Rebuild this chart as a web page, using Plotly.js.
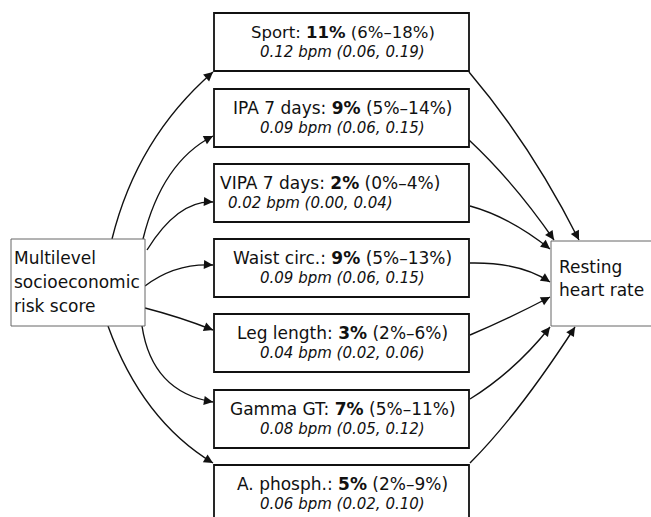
<!DOCTYPE html>
<html>
<head>
<meta charset="utf-8">
<script src="https://cdn.plot.ly/plotly-3.0.1.min.js"></script>
<style>html,body{margin:0;padding:0;background:#fff;}#chart{width:651px;height:517px;}</style>
</head>
<body>
<div id="chart"></div>
<script>
// ---- data ----
const mediators = ['Sport', 'IPA 7 days', 'VIPA 7 days', 'Waist circ.', 'Leg length', 'Gamma GT', 'A. phosph.'];
const pctMediated = [11, 9, 2, 9, 3, 7, 5];
const pctLow = [6, 5, 0, 5, 2, 5, 2];
const pctHigh = [18, 14, 4, 13, 6, 11, 9];
const bpmEffect = ['0.12', '0.09', '0.02', '0.09', '0.04', '0.08', '0.06'];
const bpmLow = ['0.06', '0.06', '0.00', '0.06', '0.02', '0.05', '0.02'];
const bpmHigh = ['0.19', '0.15', '0.04', '0.15', '0.06', '0.12', '0.10'];
const exposureLines = ['Multilevel', 'socioeconomic', 'risk score'];
const outcomeLines = ['Resting', 'heart rate'];

// ---- layout geometry (pixel space) ----
const W = 651, H = 517;
const boxX0 = 214, boxX1 = 469, boxH = 58;
const boxTops = [13, 89, 164, 239, 314, 390, 465];
const line1Size = [16.5, 17, 17, 17, 17, 17, 17];
const line1LeftX = [null, null, 218, null, null, null, null];
const line2LeftX = [null, null, 226, null, null, null, null];
const leftBox = {x0: 11, x1: 145, y0: 239, y1: 326};
const rightBox = {x0: 551, x1: 660, y0: 241, y1: 326};
// curves: [start, control, end]
const leftCurves = [
  [[112,239],[137,138],[213,72]],
  [[143,239],[162,162],[213,136]],
  [[147,250],[178,200],[213,202]],
  [[145,286],[175,263],[213,265]],
  [[145,308],[180,317],[213,330]],
  [[142,326],[152,392],[213,402]],
  [[108,326],[142,420],[213,463]]
];
const rightCurves = [
  [[469,72],[531,145],[579,240]],
  [[469,140],[514,182],[554,240]],
  [[470,206],[510,217],[550,249]],
  [[470,263],[520,262],[550,282]],
  [[470,335],[510,318],[550,297]],
  [[470,399],[515,371],[550,327]],
  [[470,463],[518,415],[575,327]]
];
const font = 'DejaVu Sans, Verdana, sans-serif';
const ink = '#111';

const shapes = [];
const annotations = [];

function rect(b, w, c) {
  shapes.push({type:'rect', xref:'x', yref:'y', x0:b.x0, x1:b.x1, y0:b.y0, y1:b.y1,
    line:{color:c, width:w}, fillcolor:'#fff', layer:'above'});
}
function curve(c) {
  const [s, k, e] = c;
  shapes.push({type:'path', xref:'x', yref:'y',
    path:`M${s[0]},${s[1]} Q${k[0]},${k[1]} ${e[0]},${e[1]}`,
    line:{color:ink, width:1.4}, layer:'below'});
  const dx = e[0]-k[0], dy = e[1]-k[1];
  const L = Math.hypot(dx, dy);
  annotations.push({x:e[0], y:e[1], ax:e[0]-dx/L*6, ay:e[1]-dy/L*6, axref:'x', ayref:'y',
    xref:'x', yref:'y', text:'', showarrow:true, arrowhead:2, arrowsize:1.3, arrowwidth:1.4,
    arrowcolor:ink, standoff:0, startstandoff:0});
}

leftCurves.forEach(curve);
rightCurves.forEach(curve);
rect(leftBox, 1, '#666');
rect(rightBox, 1, '#666');

const cx = (boxX0 + boxX1) / 2 + 1;
mediators.forEach((m, i) => {
  const t = boxTops[i];
  rect({x0:boxX0, x1:boxX1, y0:t, y1:t+boxH}, 1.8, ink);
  const l1 = line1LeftX[i], l2 = line2LeftX[i];
  annotations.push({x: l1 !== null ? l1 : cx, y:t+19, xref:'x', yref:'y', showarrow:false,
    xanchor: l1 !== null ? 'left' : 'center', yanchor:'middle',
    text:`${m}: <b>${pctMediated[i]}%</b> (${pctLow[i]}%–${pctHigh[i]}%)`,
    font:{family:font, size:line1Size[i], color:ink}});
  annotations.push({x: l2 !== null ? l2 : cx, y:t+39, xref:'x', yref:'y', showarrow:false,
    xanchor: l2 !== null ? 'left' : 'center', yanchor:'middle',
    text:`<i>${bpmEffect[i]} bpm (${bpmLow[i]}, ${bpmHigh[i]})</i>`,
    font:{family:font, size:15, color:ink}});
});

exposureLines.forEach((s, i) => {
  annotations.push({x:leftBox.x0+1, y:258+i*24, xref:'x', yref:'y', showarrow:false,
    xanchor:'left', yanchor:'middle', text:s, font:{family:font, size:17, color:ink}});
});
outcomeLines.forEach((s, i) => {
  annotations.push({x:rightBox.x0+6, y:267+i*23, xref:'x', yref:'y', showarrow:false,
    xanchor:'left', yanchor:'middle', text:s, font:{family:font, size:17, color:ink}});
});

const layout = {
  width: W, height: H,
  margin: {l:0, r:0, t:0, b:0},
  paper_bgcolor: '#fff', plot_bgcolor: '#fff',
  xaxis: {range:[0, W], visible:false, fixedrange:true},
  yaxis: {range:[H, 0], visible:false, fixedrange:true},
  showlegend: false,
  shapes: shapes,
  annotations: annotations
};
Plotly.newPlot('chart', [], layout, {staticPlot:true, displayModeBar:false});
</script>
</body>
</html>
